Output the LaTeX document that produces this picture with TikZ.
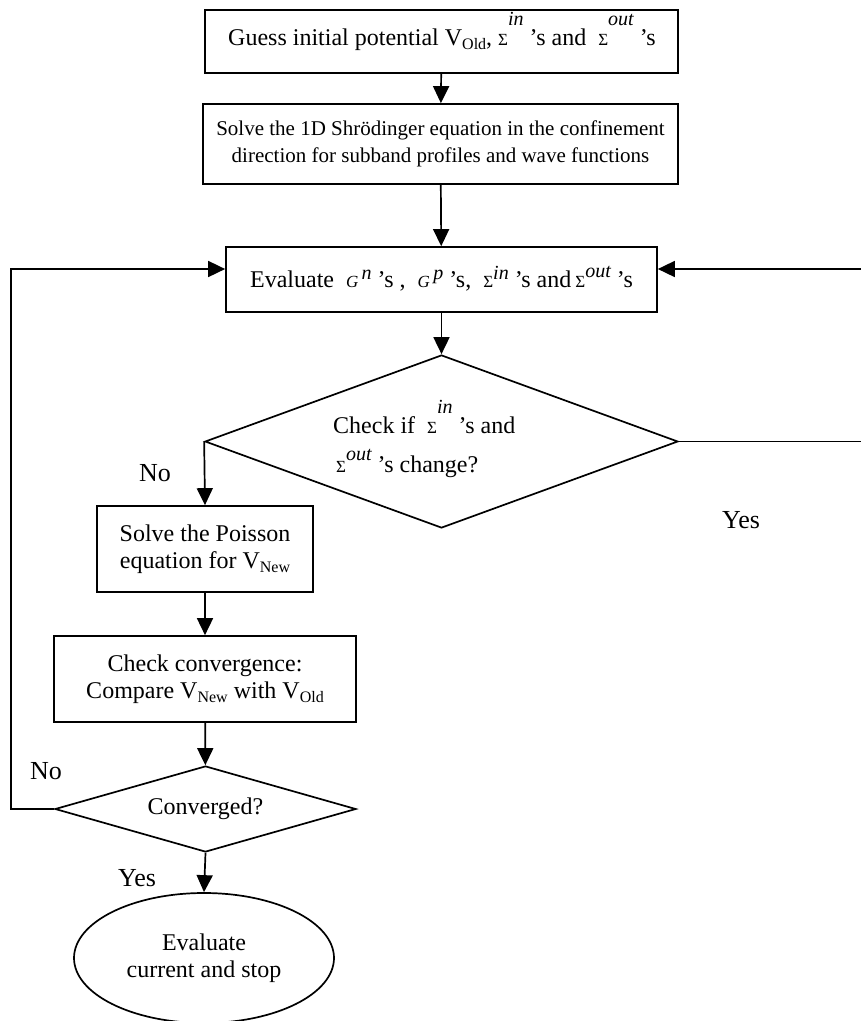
\documentclass[tikz,border=0pt]{standalone}
\usepackage{fontspec}
\setmainfont{Liberation Serif}
\usetikzlibrary{shapes.geometric,arrows.meta}
\newcommand{\Sg}[2][8pt]{{\fontsize{17pt}{17pt}\selectfont Σ}\raisebox{#1}[0pt][0pt]{\fontsize{20pt}{20pt}\selectfont\itshape #2}}
\newcommand{\Gx}[1]{{\fontsize{17pt}{17pt}\selectfont\itshape G}\raisebox{8pt}[0pt][0pt]{\fontsize{20pt}{20pt}\selectfont\itshape\,#1}}
\newcommand{\Vsb}[1]{V\raisebox{-4pt}{\fontsize{16pt}{16pt}\selectfont #1}}
\tikzset{
  every node/.style={font=\fontsize{24pt}{27pt}\selectfont, inner sep=0pt},
  boxnode/.style={draw, line width=1.7pt, rectangle, align=center},
  diam/.style={draw, line width=1.7pt, diamond},
  term/.style={draw, line width=1.7pt, ellipse, align=center},
  flow/.style={line width=1.7pt, -{Triangle[length=17pt,width=16pt]}},
  lbl/.style={font=\fontsize{26pt}{28pt}\selectfont}
}
\begin{document}
\begin{tikzpicture}[x=1pt,y=-1pt]
\useasboundingbox (0,0) rectangle (861,1021);
\clip (0,0) rectangle (861,1021);
\fill[white] (0,0) rectangle (861,1021);
\node[boxnode, minimum width=473pt, minimum height=63pt] (b1) at (441.5,41.5) {};
\node[anchor=base] (b1t) at (442,45)
  {Guess initial potential \Vsb{Old}, \Sg[20pt]{in} ’s and \ \Sg[20pt]{out} ’s};
\node[boxnode, minimum width=475pt, minimum height=80pt, font=\fontsize{21pt}{27pt}\selectfont] (b2) at (440.5,144)
  {Solve the 1D Shrödinger equation in the confinement\\direction for subband profiles and wave functions};
\node[boxnode, minimum width=431pt, minimum height=65pt] (b3) at (441.5,279.5) {};
\node[anchor=base] (b3t) at (441.5,287)
  {Evaluate \ \Gx{n} ’s , \ \Gx{p} ’s, \ \Sg{in} ’s and\,\Sg[10pt]{out} ’s};
\node[diam, minimum width=473pt, minimum height=173pt] (d1) at (441.5,441.5) {};
\node[anchor=base west] (d1a) at (333,433) {Check if \ \Sg[20pt]{in} ’s and};
\node[anchor=base west] (d1b) at (336,472) {\Sg[12pt]{out} ’s change?};
\node[boxnode, minimum width=216pt, minimum height=86pt] (b4) at (205,549)
  {Solve the Poisson\\equation for \Vsb{New}};
\node[boxnode, minimum width=302pt, minimum height=86pt] (b5) at (205,679)
  {Check convergence:\\Compare \Vsb{New} with \Vsb{Old}};
\node[diam, minimum width=301pt, minimum height=86pt] (d2) at (205.5,809) {};
\node (d2t) at (d2) {Converged?};
\node[term, minimum width=260pt, minimum height=130pt] (e) at (204,958)
  {Evaluate\\current and stop};
\coordinate (lt) at (11,269);
\coordinate (rt) at (863,269);
\draw[flow] (b1) -- (b2);
\draw[flow] (b2) -- (b3);
\draw[flow] (b3) -- (d1);
\draw[flow] (d1.west) -- (b4.north);
\draw[flow] (b4) -- (b5);
\draw[flow] (b5) -- (d2);
\draw[flow] (d2.south) -- (e.north);
\draw[flow] (d2.west) -| (lt) -- (lt -| b3.west);
\draw[flow] (d1.east) -| (rt) -- (rt -| b3.east);
\node[lbl] (no1) at (155,473) {No};
\node[lbl] (yes1) at (741,520) {Yes};
\node[lbl] (no2) at (46,771) {No};
\node[lbl] (yes2) at (137,878) {Yes};
\end{tikzpicture}
\end{document}
